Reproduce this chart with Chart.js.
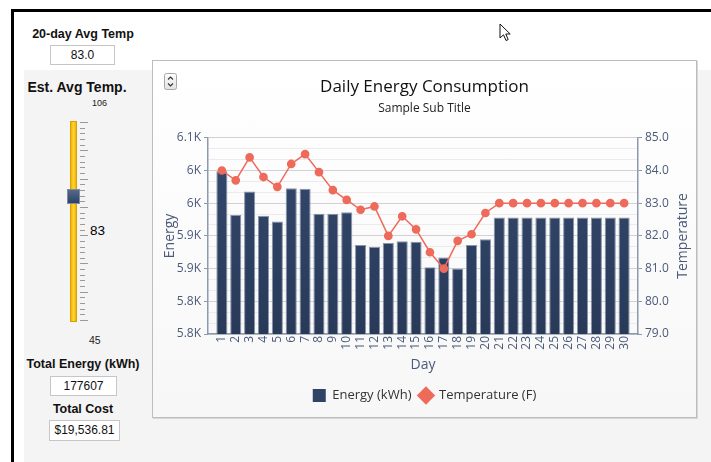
<!DOCTYPE html>
<html><head><meta charset="utf-8">
<script src="https://cdn.jsdelivr.net/npm/chart.js@4.4.1/dist/chart.umd.min.js"></script>
<style>
html,body{margin:0;padding:0;background:#fff;width:711px;height:462px;overflow:hidden;font-family:"Liberation Sans",Arial,sans-serif;}
.abs{position:absolute;}
#frameTop{left:11px;top:9px;width:700px;height:3px;background:#000;}
#frameLeft{left:11px;top:9px;width:3px;height:453px;background:#000;}
#gray{left:24px;top:70px;width:687px;height:392px;background:#f4f4f4;}
.lbl{position:absolute;font-weight:bold;color:#111;text-align:center;width:130px;left:18px;white-space:nowrap;}
.box{position:absolute;background:#fff;border:1px solid #c6c6c6;font-size:12px;text-align:center;color:#111;box-sizing:border-box;}
#panel{left:152px;top:60px;width:543px;height:356px;border:1px solid #bdbdbd;background:linear-gradient(#ffffff,#f7f7f7);box-shadow:1px 1px 0 #d8d8d8;}
#cv{position:absolute;left:0;top:0;}
.tick{position:absolute;height:1px;background:#9a9a9a;left:80px;}
</style>
</head><body>
<div id="gray" class="abs"></div>
<div id="frameTop" class="abs"></div>
<div id="frameLeft" class="abs"></div>

<div class="lbl" style="top:27px;font-size:12.5px;">20-day Avg Temp</div>
<div class="box" style="left:50px;top:45px;width:65px;height:20px;line-height:18px;">83.0</div>
<div class="lbl" style="top:79px;font-size:14px;left:12px;width:130px;">Est. Avg Temp.</div>
<div class="abs" style="left:92px;top:98px;font-size:9px;color:#222;">106</div>
<div id="slider"></div>
<div class="abs" style="left:90px;top:223px;font-size:13.5px;color:#000;">83</div>
<div class="abs" style="left:89px;top:334px;font-size:10.5px;color:#222;">45</div>
<div class="lbl" style="top:357px;font-size:12.5px;">Total Energy (kWh)</div>
<div class="box" style="left:50px;top:376px;width:67px;height:20px;line-height:18px;">177607</div>
<div class="lbl" style="top:402px;font-size:12.5px;">Total Cost</div>
<div class="box" style="left:49px;top:420px;width:71px;height:21px;line-height:19px;">$19,536.81</div>

<svg class="abs" style="left:499px;top:23px" width="13" height="20" viewBox="0 0 13 20">
<polygon points="1,1 1,15 4.5,11.8 7,17.5 9.2,16.6 6.8,11 11.2,11" fill="#fff" stroke="#111" stroke-width="1"/>
</svg>

<div id="panel" class="abs">
<svg class="abs" style="left:11px;top:12px" width="14" height="18" viewBox="0 0 14 18">
<defs><linearGradient id="bg" x1="0" y1="0" x2="0" y2="1"><stop offset="0" stop-color="#fdfdfd"/><stop offset="1" stop-color="#e2e2e2"/></linearGradient></defs>
<rect x="0.5" y="0.5" width="12" height="16" rx="2" fill="url(#bg)" stroke="#a8a8a8"/>
<polyline points="4,6.5 6.5,4 9,6.5" fill="none" stroke="#333" stroke-width="1.1"/>
<polyline points="4,10.5 6.5,13 9,10.5" fill="none" stroke="#333" stroke-width="1.1"/>
</svg>
<canvas id="cv" width="543" height="356"></canvas>
</div>

<script>
// ---- data ----
const days = [1,2,3,4,5,6,7,8,9,10,11,12,13,14,15,16,17,18,19,20,21,22,23,24,25,26,27,28,29,30];
const energyKWh = [6049,5982,6018,5981,5972,6023,6022,5984,5984,5986,5936,5933,5939,5942,5941,5902,5917,5900,5936,5945,5978,5978,5978,5978,5978,5978,5978,5978,5978,5978];
const temperatureF = [84.0,83.7,84.4,83.8,83.5,84.2,84.5,83.95,83.4,83.1,82.8,82.9,82.0,82.6,82.2,81.5,81.0,81.85,82.05,82.7,83.0,83.0,83.0,83.0,83.0,83.0,83.0,83.0,83.0,83.0];
const energyTickValues = [5800,5850,5900,5950,6000,6050,6100];
const energyTickLabels = ['5.8K','5.8K','5.9K','5.9K','6K','6K','6.1K'];
const tempTickValues = [79,80,81,82,83,84,85];
const tempTickLabels = ['79.0','80.0','81.0','82.0','83.0','84.0','85.0'];
const seriesNames = ['Energy (kWh)','Temperature (F)'];
const titleText = 'Daily Energy Consumption';
const subtitleText = 'Sample Sub Title';

// ---- slider decoration ----
(function(){
  const s = document.getElementById('slider');
  let html = '<div class="abs" style="left:70px;top:121px;width:7px;height:201px;box-sizing:border-box;border:1px solid #d6a300;background:linear-gradient(to right,#f0b400,#ffd238,#f0b400);"></div>';
  for (let i=0;i<=35;i++){
    const y = 122 + i*198/35;
    html += '<div class="tick" style="top:'+y.toFixed(1)+'px;width:'+(i%5===0?8:5)+'px"></div>';
  }
  html += '<div class="abs" style="left:67px;top:189px;width:13px;height:15px;box-sizing:border-box;border:1px solid #7d8ca3;background:linear-gradient(#56698a,#2d4266);"></div>';
  s.innerHTML = html;
})();

// ---- chart ----
function withMinor(vals){
  const out = [];
  for (let i=0;i<vals.length;i++){
    out.push({value: vals[i], major: true});
    if (i < vals.length-1){
      const step = (vals[i+1]-vals[i])/3;
      out.push({value: vals[i]+step, major:false});
      out.push({value: vals[i]+2*step, major:false});
    }
  }
  return out;
}
function isMajor(vals, v){ return vals.some(m => Math.abs(m - v) < 1e-6); }

const axisColor = '#4b5a79';
const chartFont = '"Open Sans", "Liberation Sans", sans-serif';

const rightTitlePlugin = {
  id: 'rightTitle',
  afterDraw(chart){
    const s = chart.scales.y1;
    const c = chart.ctx;
    c.save();
    c.font = '14px ' + chartFont;
    c.fillStyle = axisColor;
    c.textAlign = 'center';
    c.textBaseline = 'middle';
    c.translate(s.right - 13, (chart.chartArea.top + chart.chartArea.bottom)/2);
    c.rotate(-Math.PI/2);
    c.fillText('Temperature', 0, 0);
    c.restore();
  }
};

const ctx = document.getElementById('cv').getContext('2d');
new Chart(ctx, {
  data: {
    datasets: [
      {
        type: 'bar',
        label: seriesNames[0],
        data: days.map((d,i)=>({x:d, y:energyKWh[i]})),
        yAxisID: 'y',
        order: 1,
        backgroundColor: (c) => {
          const a = c.chart.chartArea;
          if (!a) return '#2f4366';
          const g = c.chart.ctx.createLinearGradient(0, a.top, 0, a.bottom);
          g.addColorStop(0, '#34496e');
          g.addColorStop(1, '#293a59');
          return g;
        },
        borderColor: 'rgba(125,138,160,0.9)',
        borderWidth: 1,
        categoryPercentage: 1,
        barPercentage: 0.8,
        pointStyle: 'rect'
      },
      {
        type: 'line',
        label: seriesNames[1],
        data: days.map((d,i)=>({x:d, y:temperatureF[i]})),
        yAxisID: 'y1',
        order: 0,
        borderColor: '#ee6a5b',
        backgroundColor: '#ee6a5b',
        borderWidth: 1.5,
        pointRadius: 3.6,
        pointHoverRadius: 3.6,
        pointBackgroundColor: '#ee6a5b',
        pointBorderColor: '#ee6a5b',
        pointStyle: 'circle',
        tension: 0
      }
    ]
  },
  options: {
    responsive: false,
    animation: false,
    devicePixelRatio: 1,
    layout: { padding: { left: 0, right: 0, top: 0, bottom: 5 } },
    plugins: {
      tooltip: { enabled: false },
      title: {
        display: true, text: titleText, color: '#111',
        font: { family: chartFont, size: 17, weight: 'normal' },
        padding: { top: 16, bottom: 0 }
      },
      subtitle: {
        display: true, text: subtitleText, color: '#222',
        font: { family: chartFont, size: 12 },
        padding: { top: 4, bottom: 22 }
      },
      legend: {
        position: 'bottom',
        labels: {
          usePointStyle: true,
          boxHeight: 13,
          padding: 8,
          color: '#333',
          font: { family: chartFont, size: 13 },
          generateLabels(chart){
            const items = Chart.defaults.plugins.legend.labels.generateLabels(chart);
            items.sort((a,b)=>a.datasetIndex-b.datasetIndex);
            items.forEach(it => {
              if (it.datasetIndex === 0){ it.pointStyle = 'rect'; it.fillStyle = '#2f4366'; it.strokeStyle = '#2f4366'; }
              else { it.pointStyle = 'rectRot'; it.fillStyle = '#ee6a5b'; it.strokeStyle = '#ee6a5b'; }
              it.lineWidth = 0;
            });
            return items;
          }
        }
      }
    },
    scales: {
      x: {
        type: 'linear', min: 0, max: 31, offset: false,
        afterBuildTicks(scale){ scale.ticks = days.map(d => ({value: d})); },
        afterFit(scale){ scale.height = 47; },
        ticks: {
          autoSkip: false, minRotation: 90, maxRotation: 90, padding: 2,
          color: axisColor, font: { family: chartFont, size: 12 },
          callback: (v) => String(v)
        },
        grid: { display: false, drawTicks: false, offset: false },
        border: { display: true, color: '#8d99ad', width: 1.5 },
        title: { display: true, text: 'Day', color: axisColor, font: { family: chartFont, size: 14 }, padding: { top: 0, bottom: 8 } }
      },
      y: {
        type: 'linear', position: 'left', min: 5800, max: 6100,
        afterBuildTicks(scale){ scale.ticks = withMinor(energyTickValues).map(t => ({value: t.value})); },
        afterFit(scale){ scale.width = 55; },
        ticks: {
          autoSkip: false, padding: 3, color: axisColor, font: { family: chartFont, size: 12 },
          callback: (v) => { const i = energyTickValues.findIndex(m => Math.abs(m-v) < 1e-6); return i >= 0 ? energyTickLabels[i] : ''; }
        },
        grid: {
          color: (c) => isMajor(energyTickValues, c.tick ? c.tick.value : 0) ? '#d2d2d2' : '#ebebeb',
          tickColor: (c) => isMajor(energyTickValues, c.tick ? c.tick.value : 0) ? '#8d99ad' : 'rgba(0,0,0,0)',
          tickLength: 4, lineWidth: 1
        },
        border: { display: true, color: '#8d99ad', width: 1.5 },
        title: { display: true, text: 'Energy', color: axisColor, font: { family: chartFont, size: 14 }, padding: { top: 9, bottom: 0 } }
      },
      y1: {
        type: 'linear', position: 'right', min: 79, max: 85,
        afterBuildTicks(scale){ scale.ticks = withMinor(tempTickValues).map(t => ({value: t.value})); },
        afterFit(scale){ scale.width = 58; },
        ticks: {
          autoSkip: false, padding: 3, color: axisColor, font: { family: chartFont, size: 12 },
          callback: (v) => { const i = tempTickValues.findIndex(m => Math.abs(m-v) < 1e-6); return i >= 0 ? tempTickLabels[i] : ''; }
        },
        grid: {
          drawOnChartArea: false,
          tickColor: (c) => isMajor(tempTickValues, c.tick ? c.tick.value : 0) ? '#8d99ad' : 'rgba(0,0,0,0)',
          tickLength: 4
        },
        border: { display: true, color: '#8d99ad', width: 1.5 },
        title: { display: false }
      }
    }
  },
  plugins: [rightTitlePlugin]
});
</script>
</body></html>
